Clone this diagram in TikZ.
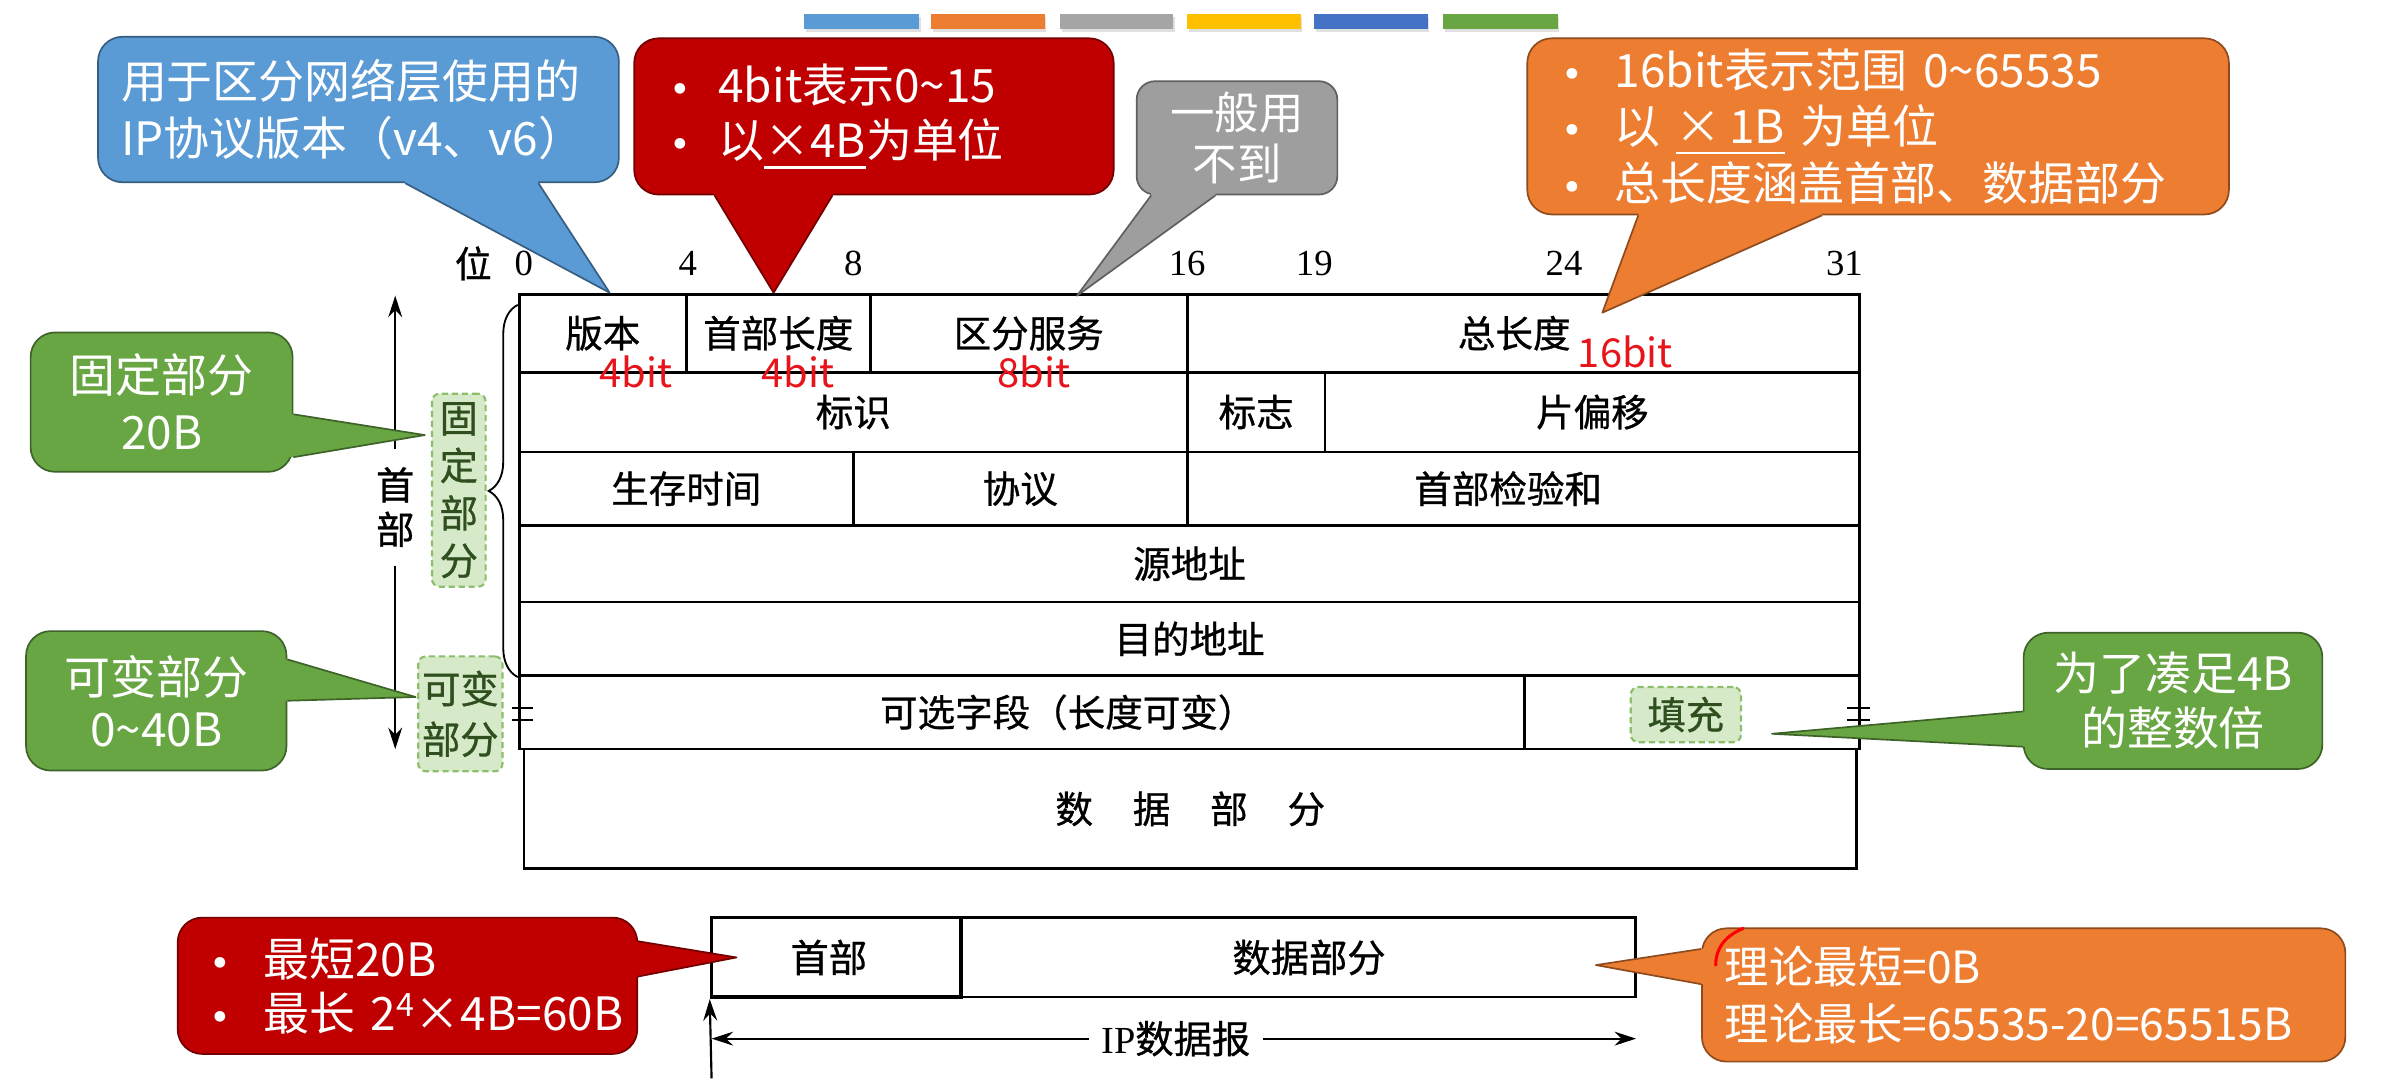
\documentclass[tikz,border=0pt]{standalone}
\usepackage{fontspec}
\setmainfont{Liberation Serif}
\newfontfamily\cjk{Noto Sans CJK SC}
\newfontfamily\cjkt[FakeBold=0.8]{Noto Sans CJK SC}
\newfontfamily\dejavu{DejaVu Sans}
\usetikzlibrary{calc,arrows.meta,decorations.pathreplacing}

\definecolor{cblue}{HTML}{5B9BD5}
\definecolor{cred}{HTML}{C00000}
\definecolor{cgray}{HTML}{9E9E9E}
\definecolor{corange}{HTML}{ED7D31}
\definecolor{cgreen}{HTML}{68A543}
\definecolor{cyellow}{HTML}{FFC000}
\definecolor{cdblue}{HTML}{4472C4}
\definecolor{cbargray}{HTML}{A5A5A5}
\definecolor{lgreen}{HTML}{D6E9C9}
\definecolor{dgreen}{HTML}{8DBE6C}
\definecolor{tgreen}{HTML}{2F4F1E}
\definecolor{bitred}{HTML}{E8141B}

\newcommand\fsz[2]{\fontsize{#1}{#2}\selectfont}
\newcommand\blt{\makebox[32pt][l]{{\dejavu\fsz{24}{24}•}}}
\newcommand\bltb{\makebox[35pt][l]{{\dejavu\fsz{24}{24}•}}}
\newcommand\uline[1]{\setbox0\hbox{#1}\rlap{\rule[-7pt]{\wd0}{1.8pt}}\box0}
% callout tail: colour, base1, tip, base2, inward shift
\newcommand\ctail[5]{%
  \fill[#1] ($#2+#5$) -- #2 -- #3 -- #4 -- ($#4+#5$) -- cycle;
  \draw[#1!60!black, line width=1.1pt, line join=round] #2 -- #3 -- #4;}

\begin{document}
\begin{tikzpicture}[x=1pt,y=-1pt,
  callbox/.style={rectangle, rounded corners=16pt, draw=#1!60!black, line width=1.1pt, fill=#1, text=white, font=\cjk\fsz{30}{37}, inner sep=0pt},
  cell/.style={draw, line width=1.8pt, inner sep=0pt, font=\cjkt\fsz{24.5}{28}},
  bitnum/.style={font=\fsz{24}{24}, inner sep=0pt},
  bitred/.style={text=bitred, font=\cjk\fsz{26}{26}, inner sep=0pt},
  dbox/.style={draw=dgreen, dash pattern=on 4pt off 2.5pt, line width=1.4pt, fill=lgreen, rounded corners=5pt, text=tgreen, font=\cjkt\fsz{25}{31}, inner sep=0pt, align=center},
  arr/.style={line width=1.4pt, -{Stealth[length=14pt,width=9pt]}},
]
\fill[white] (0,0) rectangle (1568,704);
\useasboundingbox (0,0) rectangle (1568,704);

% top colour bars
\foreach \xa/\xb/\col in {525/600/cblue, 608/682/corange, 692/766/cbargray, 775/849/cyellow, 858/932/cdblue, 942/1017/cgreen}{
  \fill[black!12] (\xa+1,11) rectangle (\xb+1,21);
  \fill[\col] (\xa,9) rectangle (\xb,19);
}

% table
\node[cell, minimum width=109, minimum height=51] (ver) at (393.5,217.5) {版本};
\node[cell, minimum width=120, minimum height=51] (ihl) at (508,217.5) {首部长度};
\node[cell, minimum width=207, minimum height=51] (ds) at (671.5,217.5) {区分服务};
\node[cell, minimum width=439, minimum height=51] (tot) at (994.5,217.5) {\hspace*{-12pt}总长度};
\node[cell, minimum width=436, minimum height=52] (ident) at (557,269) {标识};
\node[cell, minimum width=90, minimum height=52] (flag) at (820,269) {标志};
\node[cell, minimum width=349, minimum height=52] (frag) at (1039.5,269) {片偏移};
\node[cell, minimum width=218, minimum height=48] (ttl) at (448,319) {生存时间};
\node[cell, minimum width=218, minimum height=48] (proto) at (666,319) {协议};
\node[cell, minimum width=439, minimum height=48] (csum) at (994.5,319) {\hspace*{-20pt}首部检验和};
\node[cell, minimum width=875, minimum height=50] (src) at (776.5,368) {源地址};
\node[cell, minimum width=875, minimum height=48] (dst) at (776.5,417) {目的地址};
\node[cell, minimum width=656, minimum height=48] (opt) at (667,465) {\hspace*{60pt}可选字段（长度可变）};
\node[cell, minimum width=219, minimum height=48] (pad) at (1104.5,465) {};
\node[cell, minimum width=870, minimum height=78] (data) at (777,528) {数\hspace{26pt}据\hspace{26pt}部\hspace{26pt}分};

% bit numbers
\node[font=\cjkt\fsz{24}{24}, inner sep=0pt] (wei) at (309,172) {位};
\node[bitnum] (n0) at (342,172) {0};
\node[bitnum] (n4) at (449,172) {4};
\node[bitnum] (n8) at (557,172) {8};
\node[bitnum] (n16) at (775,172) {16};
\node[bitnum] (n19) at (858,172) {19};
\node[bitnum] (n24) at (1021,172) {24};
\node[bitnum] (n31) at (1204,172) {31};

% red bit widths
\node[bitred] (vb) at (415,243) {4bit};
\node[bitred] (ib) at (521,243) {4bit};
\node[bitred] (db) at (675,243) {8bit};
\node[bitred] (tb) at (1061,230) {16bit};

% variable-length marks
\draw[line width=1.3pt] (334,462) -- (348,462) (334,470) -- (348,470);
\draw[line width=1.3pt] (1206,462) -- (1221,462) (1206,470) -- (1221,470);

% brace and header arrow
\draw[decorate, decoration={brace, amplitude=19pt, aspect=0.5}, line width=1.2pt] (338,442) -- (338,199);
\node[font=\cjkt\fsz{25}{29}, align=center, inner sep=0pt, minimum height=76] (hdlbl) at (258,331) {首\\部};
\coordinate (hdtop) at (258,193);
\coordinate (hdbot) at (258,489);
\draw[arr] (hdlbl.north) -- (hdtop);
\draw[arr] (hdlbl.south) -- (hdbot);

% dashed highlight boxes
\node[dbox, minimum width=35, minimum height=126] (fixbox) at (299.5,320) {固\\定\\部\\分};
\node[dbox, minimum width=55, minimum height=75, font=\cjkt\fsz{25}{33}] (varbox) at (300.5,466) {可变\\部分};
\node[dbox, minimum width=72, minimum height=36] (padbox) at (1100.5,466.5) {填充};

% bottom datagram
\node[draw, line width=1.6pt, minimum width=440, minimum height=52, inner sep=0pt, font=\cjkt\fsz{25}{25}] (bdata) at (847.5,625) {\hspace*{14pt}数据部分};
\node[draw, line width=2.4pt, minimum width=163, minimum height=52, inner sep=0pt, font=\cjkt\fsz{25}{25}] (bhdr) at (546,625) {\hspace*{-10pt}首部};
\coordinate (vbot) at (464.5,704);
\draw[arr] (vbot) -- (bhdr.south west);
\node[inner xsep=8pt, inner ysep=0pt, font=\fsz{25}{25}] (iplbl) at (767.5,678) {IP{\cjkt 数据报}};
\coordinate (ipL) at (464.5,678);
\coordinate (ipR) at (1068,678);
\draw[arr] (iplbl.west) -- (ipL);
\draw[arr] (iplbl.east) -- (ipR);

% callout boxes
\node[callbox=cblue, minimum width=340, minimum height=95, text width=310, align=left] (bluebox) at (234,71.5) {用于区分网络层使用的\\IP协议版本（v4、v6）};
\node[callbox=cred, minimum width=313, minimum height=102, text width=267, align=left, font=\cjk\fsz{30}{36}] (redbox) at (570.5,76) {\blt 4bit表示0\textasciitilde15\\\blt 以\uline{×4B}为单位};
\node[callbox=cgray, rounded corners=12pt, minimum width=131, minimum height=74, align=center, font=\cjk\fsz{29}{33}] (graybox) at (807.5,90) {一般用\\不到};
\node[callbox=corange, minimum width=458, minimum height=115, text width=414, align=left] (orbox) at (1226,82.5) {\bltb 16bit表示范围 0\textasciitilde65535\\\bltb 以 \uline{×\,1B}\ 为单位\\\bltb 总长度涵盖首部、数据部分};
\node[callbox=cgreen, minimum width=171, minimum height=91, align=center] (fixcall) at (105.5,262.5) {固定部分\\20B};
\node[callbox=cgreen, minimum width=170, minimum height=91, align=center, font=\cjk\fsz{30}{34}] (varcall) at (102,457.5) {可变部分\\0\textasciitilde40B};
\node[callbox=cgreen, minimum width=195, minimum height=89, align=center, font=\cjk\fsz{30}{36}] (padcall) at (1418.5,457.5) {为了凑足4B\\的整数倍};
\node[callbox=cred, minimum width=300, minimum height=89, text width=258, align=left, font=\cjk\fsz{30}{35}] (mincall) at (266,643.5) {\bltb 最短20B\\\bltb \mbox{最长 2\textsuperscript{4}×4B=60B}};
\node[callbox=corange, minimum width=420, minimum height=87, text width=390, align=left, font=\cjk\fsz{29}{37}] (lencall) at (1321,649.5) {理论最短=0B\\理论最长=65535-20=65515B};

% tails
\coordinate (bluetip) at ($(ver.north)+(4.5,0)$);
\coordinate (bb1) at ($(bluebox.south west)+(201,0)$);
\coordinate (bb2) at ($(bluebox.south west)+(288,0)$);
\ctail{cblue}{(bb1)}{(bluetip)}{(bb2)}{(0,-4)}

\coordinate (redtip) at ($(ihl.north)+(-3,0)$);
\coordinate (rb1) at ($(redbox.south west)+(53,0)$);
\coordinate (rb2) at ($(redbox.south west)+(130,0)$);
\ctail{cred}{(rb1)}{(redtip)}{(rb2)}{(0,-4)}

\coordinate (graytip) at ($(ds.north)+(31.5,2)$);
\coordinate (gb1) at ($(graybox.south west)+(10,0)$);
\coordinate (gb2) at ($(graybox.south west)+(52,0)$);
\ctail{cgray}{(gb1)}{(graytip)}{(gb2)}{(0,-4)}

\coordinate (ortip) at ($(tot.north)+(51.5,13)$);
\coordinate (ob1) at ($(orbox.south west)+(73,0)$);
\coordinate (ob2) at ($(orbox.south west)+(193,0)$);
\ctail{corange}{(ob1)}{(ortip)}{(ob2)}{(0,-4)}

\coordinate (fixtip) at ($(fixbox.west)+(-4,-36)$);
\coordinate (fb1) at ($(fixcall.north east)+(0,54)$);
\coordinate (fb2) at ($(fixcall.north east)+(0,82)$);
\ctail{cgreen}{(fb1)}{(fixtip)}{(fb2)}{(-4,0)}

\coordinate (vartip) at ($(varbox.west)+(-1,-11)$);
\coordinate (vb1) at ($(varcall.north east)+(0,19)$);
\coordinate (vb2) at ($(varcall.north east)+(0,46)$);
\ctail{cgreen}{(vb1)}{(vartip)}{(vb2)}{(-4,0)}

\coordinate (padtip) at ($(padbox.east)+(19.5,12.5)$);
\coordinate (pb1) at ($(padcall.north west)+(0,52)$);
\coordinate (pb2) at ($(padcall.north west)+(0,75)$);
\ctail{cgreen}{(pb1)}{(padtip)}{(pb2)}{(4,0)}

\coordinate (mintip) at ($(bhdr.west)+(17.5,0)$);
\coordinate (mb1) at ($(mincall.north east)+(0,16)$);
\coordinate (mb2) at ($(mincall.north east)+(0,39)$);
\ctail{cred}{(mb1)}{(mintip)}{(mb2)}{(-4,0)}

\coordinate (lentip) at ($(bdata.east)+(-26.5,5)$);
\coordinate (lb1) at ($(lencall.north west)+(0,14)$);
\coordinate (lb2) at ($(lencall.north west)+(0,37)$);
\ctail{corange}{(lb1)}{(lentip)}{(lb2)}{(4,0)}

% stray pen mark
\draw[red, line width=2pt, line cap=round] (1138,606) .. controls (1126,611) and (1120,619) .. (1120,630);
\end{tikzpicture}
\end{document}
